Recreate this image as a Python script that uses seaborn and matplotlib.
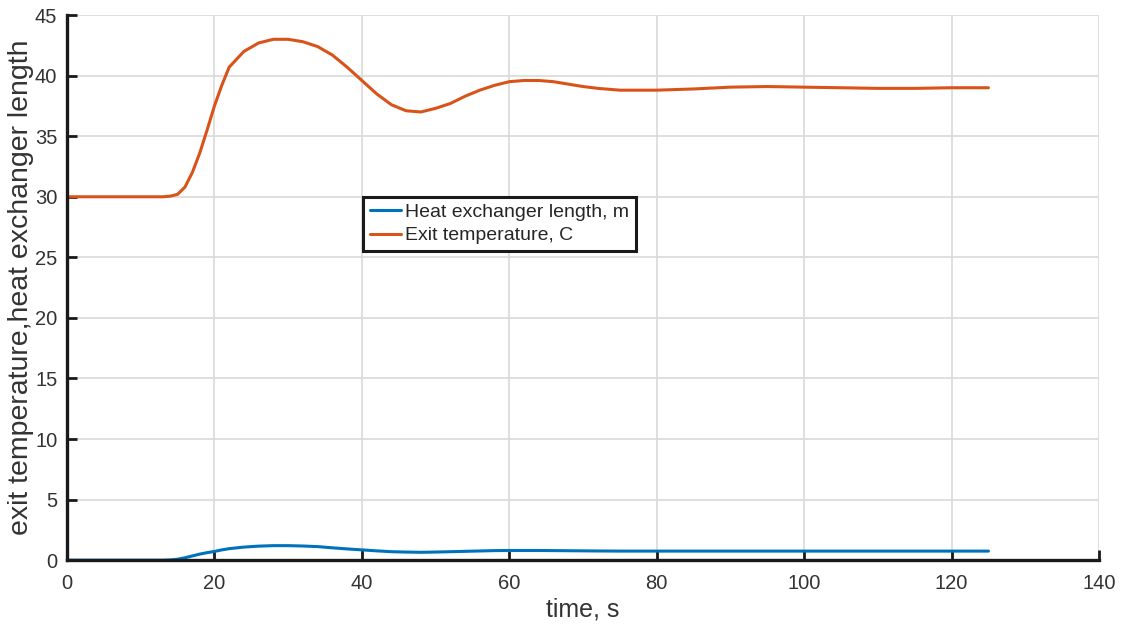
import pandas as pd
import matplotlib
matplotlib.use("Agg")
import matplotlib.pyplot as plt
import seaborn as sns

# time, s
time = [0, 5, 10, 13, 14, 15, 16, 17, 18, 19, 20, 21, 22, 24, 26, 28, 30, 32, 34, 36, 38,
        40, 42, 44, 46, 48, 50, 52, 54, 56, 58, 60, 62, 64, 66, 68, 70, 72, 75, 80,
        85, 90, 95, 100, 105, 110, 115, 120, 125]

# exit temperature, C
exit_temp = [30.0, 30.0, 30.0, 30.0, 30.05, 30.2, 30.8, 32.0, 33.6, 35.5, 37.5, 39.2, 40.7,
             42.0, 42.7, 43.0, 43.0, 42.8, 42.4, 41.7, 40.7,
             39.6, 38.5, 37.6, 37.1, 37.0, 37.3, 37.7, 38.3, 38.8, 39.2, 39.5, 39.6, 39.6,
             39.5, 39.3, 39.1, 38.95, 38.8, 38.8,
             38.9, 39.05, 39.1, 39.05, 39.0, 38.95, 38.95, 39.0, 39.0]

# heat exchanger length, m
hx_length = [0.0, 0.0, 0.0, 0.0, 0.02, 0.08, 0.2, 0.35, 0.5, 0.62, 0.72, 0.85, 0.95,
             1.08, 1.16, 1.2, 1.2, 1.17, 1.12, 1.02, 0.93,
             0.85, 0.77, 0.7, 0.67, 0.65, 0.67, 0.7, 0.73, 0.76, 0.79, 0.8, 0.8, 0.8,
             0.79, 0.78, 0.77, 0.76, 0.75, 0.75,
             0.75, 0.75, 0.75, 0.75, 0.75, 0.75, 0.75, 0.75, 0.75]

labels = ["Heat exchanger length, m", "Exit temperature, C"]
colors = ["#0072BD", "#D95319"]

df = pd.concat([
    pd.DataFrame({"time": time, "value": hx_length, "series": labels[0]}),
    pd.DataFrame({"time": time, "value": exit_temp, "series": labels[1]}),
])

sns.set_theme(style="whitegrid")
plt.rcParams["font.family"] = ["Liberation Sans", "DejaVu Sans"]

fig = plt.figure(figsize=(11.28, 6.28), dpi=100)
ax = fig.add_axes([0.0594, 0.108, 0.9149, 0.868])

sns.lineplot(data=df, x="time", y="value", hue="series", palette=colors,
             linewidth=2.2, ax=ax, legend=True)

ax.set_xlim(0, 140)
ax.set_ylim(0, 45)
ax.set_xticks(range(0, 141, 20))
ax.set_yticks(range(0, 46, 5))
ax.grid(True, color="#d9d9d9", linewidth=1.2)
ax.set_axisbelow(True)

for side in ["top", "right"]:
    ax.spines[side].set_visible(False)
for side in ["left", "bottom"]:
    ax.spines[side].set_color("#1a1a1a")
    ax.spines[side].set_linewidth(2.4)

ax.tick_params(axis="both", direction="in", length=7, width=2.0, color="#1a1a1a",
               bottom=True, left=True, labelsize=14.5, labelcolor="#333333")
ax.tick_params(axis="x", pad=10)
ax.tick_params(axis="y", pad=7)

ax.set_xlabel("time, s", fontsize=18, color="#333333", labelpad=3)
ax.set_ylabel("exit temperature,heat exchanger length", fontsize=20.5, color="#333333",
              labelpad=1)

leg = ax.legend(loc="upper left", bbox_to_anchor=(0.287, 0.667), fontsize=14,
                frameon=True, fancybox=False, handlelength=1.6, handletextpad=0.2,
                borderpad=0.35, labelspacing=0.3, borderaxespad=0)
leg.get_frame().set_edgecolor("#1a1a1a")
leg.get_frame().set_linewidth(2.2)
leg.get_frame().set_alpha(1)
for t in leg.get_texts():
    t.set_color("#262626")

fig.savefig("out.png", dpi=100)
